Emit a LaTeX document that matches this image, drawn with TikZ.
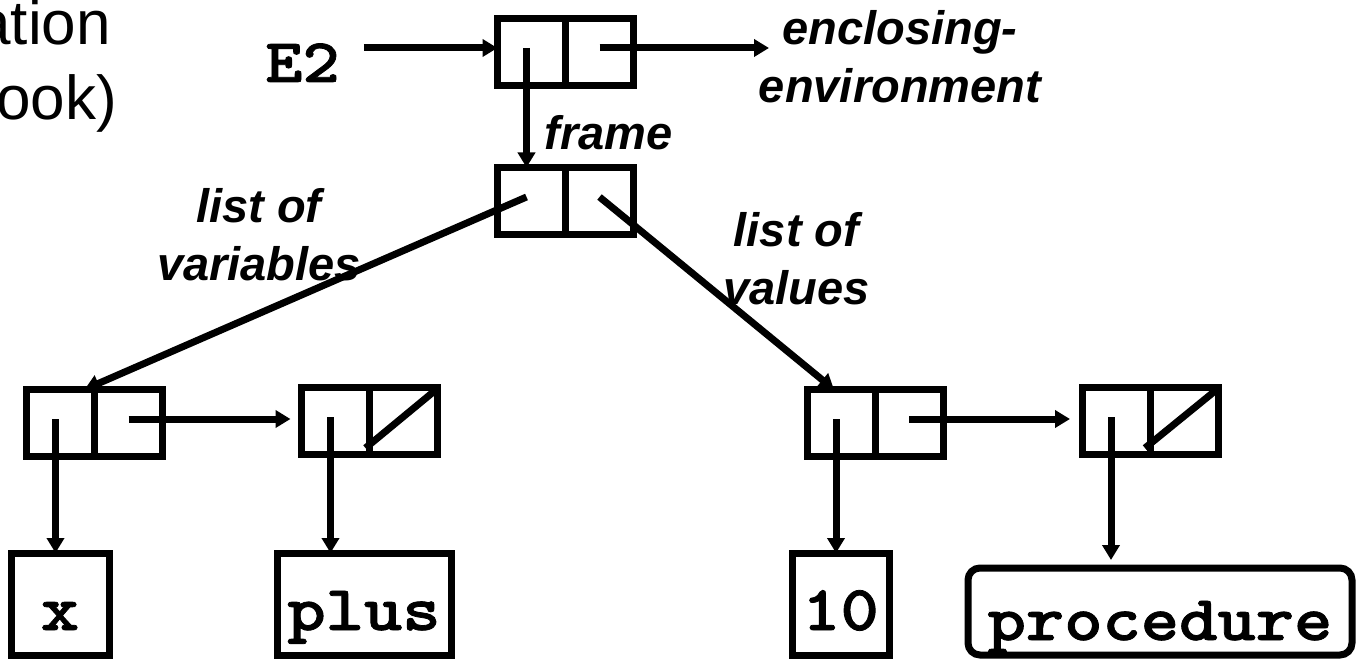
\documentclass[tikz,border=0pt]{standalone}
\usepackage{fontspec}
\setmainfont{Liberation Sans}
\newfontfamily\monob{lmmonolt10-bold.otf}[FakeBold=1.2]
\usetikzlibrary{arrows.meta,calc}
\newcommand\monostr[1]{\scalebox{1.14}[1]{#1}}
\tikzset{
  cons/.style={draw, line width=7pt, minimum width=136pt, minimum height=67pt, inner sep=0pt, outer sep=0pt},
  atom/.style={draw, line width=7pt, inner sep=0pt, outer sep=0pt, font=\monob\fontsize{64}{64}\selectfont, text height=77pt, text depth=25pt},
  lbl/.style={inner sep=0pt, font=\bfseries\itshape\fontsize{47}{58}\selectfont},
  monolbl/.style={inner sep=0pt, font=\monob\fontsize{62}{62}\selectfont},
  ttlfont/.style={inner sep=0pt, font=\fontsize{62}{75}\selectfont},
  ptr/.style={line width=7pt, -{Triangle[length=15pt,width=17pt]}},
  seg/.style={line width=7pt},
}
\begin{document}
\begin{tikzpicture}[x=1pt,y=-1pt]
\useasboundingbox (0,0) rectangle (1360,660);

% partial title text (cut at the left edge, as in the reference)
\node[ttlfont, anchor=base east] (ttl1) at (111,45) {ation};
\node[ttlfont, anchor=base east] (ttl2) at (117,120) {ook)};

% cons cells
\node[cons] (A) at (565.5,52) {};
\node[cons] (B) at (565.5,201) {};
\node[cons] (C) at (94.5,423) {};
\node[cons] (D) at (369.5,421) {};
\node[cons] (E) at (875,423) {};
\node[cons] (F) at (1150,421) {};
\foreach \n in {A,B,C,D,E,F} {
  \draw[seg] (\n.north) -- (\n.south);
  \coordinate (\n-car) at ($(\n.center)+(-39,-4)$);
  \coordinate (\n-cdr) at ($(\n.center)+(34,-4)$);
}
% nil slashes
\draw[seg] ($(D.center)+(-4,27)$) -- ($(D.center)+(65,-30)$);
\draw[seg] ($(F.center)+(-5,27)$) -- ($(F.center)+(65,-30)$);

% atoms
\node[atom, minimum width=98pt, anchor=base] (X) at (60,630) {\monostr{x}};
\node[atom, minimum width=174pt, anchor=base] (PL) at (364,630) {\monostr{plus}};
\node[atom, minimum width=97pt, anchor=base] (TEN) at (840.5,630) {\monostr{10}};
\node[atom, minimum width=384pt, rounded corners=12pt, text height=72pt, text depth=15pt, anchor=base] (PROC) at (1160,640) {\monostr{procedure}};

% labels
\node[monolbl, anchor=base] (E2) at (302.5,82) {\monostr{E2}};
\node[lbl, anchor=base] (enc) at (900,45) {\begin{tabular}[t]{@{}c@{}}enclosing-\\environment\end{tabular}};
\node[lbl, anchor=base] (frm) at (608.5,150) {frame};
\node[lbl, anchor=base] (lov) at (259,223) {\begin{tabular}[t]{@{}c@{}}list of\\variables\end{tabular}};
\node[lbl, anchor=base] (lova) at (796.5,247) {\begin{tabular}[t]{@{}c@{}}list of\\values\end{tabular}};
\coordinate (encarrow) at (769,48);

% pointers
\draw[ptr, shorten <=24pt] (E2.east |- A-car) -- (A.west |- A-car);
\draw[ptr] (A-cdr) -- (encarrow);
\draw[ptr] (A-car) -- (A-car |- B.north);
\draw[ptr] (B-car) -- ($(C.north)+(-10,0)$);
\draw[ptr] (B-cdr) -- ($(E.north)+(-41,0)$);
\draw[ptr, shorten >=11pt] (C-cdr) -- (C-cdr -| D.west);
\draw[ptr, shorten >=12pt] (E-cdr) -- (E-cdr -| F.west);
\draw[ptr] (C-car) -- (C-car |- X.north);
\draw[ptr] (D-car) -- (D-car |- PL.north);
\draw[ptr] (E-car) -- (E-car |- TEN.north);
\draw[ptr, shorten >=8pt] (F-car) -- (F-car |- PROC.north);
\end{tikzpicture}
\end{document}
